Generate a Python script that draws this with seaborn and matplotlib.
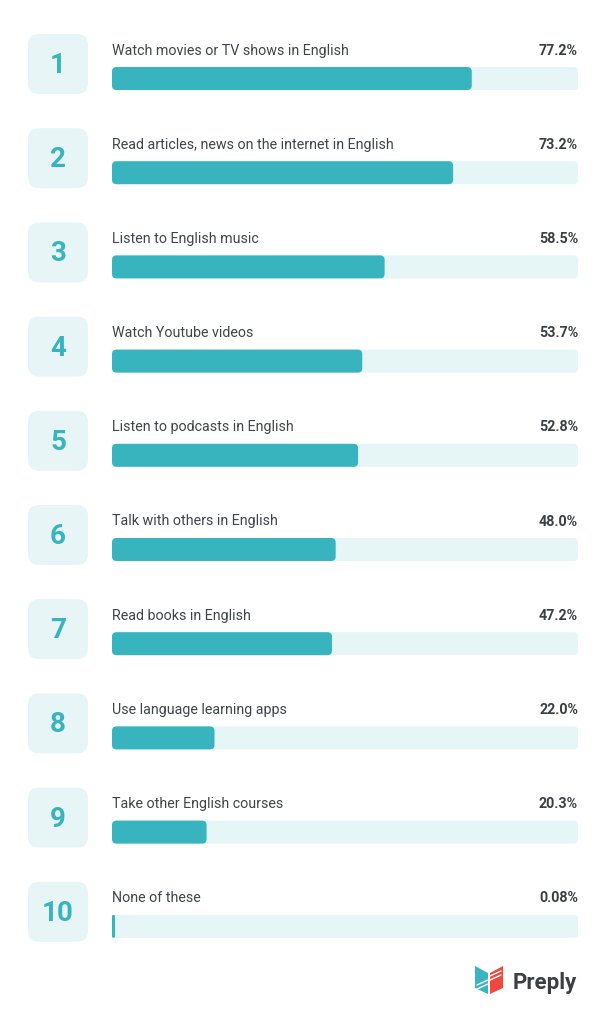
import matplotlib
matplotlib.use("Agg")
import matplotlib.pyplot as plt
import seaborn as sns
import pandas as pd
from matplotlib.patches import FancyBboxPatch, Polygon

# ---------------- data ----------------
ranks = [1, 2, 3, 4, 5, 6, 7, 8, 9, 10]
activities = [
    "Watch movies or TV shows in English",
    "Read articles, news on the internet in English",
    "Listen to English music",
    "Watch Youtube videos",
    "Listen to podcasts in English",
    "Talk with others in English",
    "Read books in English",
    "Use language learning apps",
    "Take other English courses",
    "None of these",
]
shares = [77.2, 73.2, 58.5, 53.7, 52.8, 48.0, 47.2, 22.0, 20.3, 0.08]
full_scale = [100.0] * len(activities)

# ---------------- style ----------------
TEAL = "#38B4BE"
TRACK = "#E6F5F6"
BOX = "#E7F5F6"
TEXT = "#3F4549"
PCT = "#3A3F44"

sns.set_theme(style="white")
plt.rcParams["font.family"] = ["Roboto", "DejaVu Sans"]

W, H = 607, 1024
fig = plt.figure(figsize=(W / 100, H / 100), dpi=100)
fig.patch.set_facecolor("white")

x0_px, x1_px = 112, 578
row0_px, row_step = 78.5, 94.2
ax = fig.add_axes([x0_px / W, 0, (x1_px - x0_px) / W, 1])
ax.set_facecolor("none")

df = pd.DataFrame({"activity": activities, "share": shares, "full": full_scale})
bar_h = 23 / row_step

sns.barplot(data=df, x="full", y="activity", orient="h", color=TRACK,
            width=bar_h, ax=ax, saturation=1, order=activities)
n_track = len(ax.patches)
sns.barplot(data=df, x="share", y="activity", orient="h", color=TEAL,
            width=bar_h, ax=ax, saturation=1, order=activities)

ax.set_xlim(0, 100)
ax.set_ylim((H - row0_px) / row_step, -row0_px / row_step)
ax.axis("off")

# rounded bars replacing the library's rectangles
px_per_x = (x1_px - x0_px) / 100.0
aspect = (1 / row_step) / (1 / px_per_x)
radius_x = 4.5 / px_per_x
patches = list(ax.patches)
for k, p in enumerate(patches):
    x, y = p.get_x(), p.get_y()
    w, h = p.get_width(), p.get_height()
    fc = p.get_facecolor()
    p.remove()
    w_draw = max(w, 3 / px_per_x)
    r = min(radius_x, w_draw / 2)
    fb = FancyBboxPatch((x, y), w_draw, h,
                        boxstyle=f"round,pad=0,rounding_size={r}",
                        mutation_aspect=aspect, facecolor=fc, edgecolor="none",
                        zorder=2 if k >= n_track else 1)
    ax.add_patch(fb)

# number boxes, labels, percentages
box_x0 = (28 - x0_px) / px_per_x
box_x1 = (88 - x0_px) / px_per_x
box_h = 60 / row_step
box_r = 11 / px_per_x
for i, (rk, act, v) in enumerate(zip(ranks, activities, shares)):
    cy = i - (row0_px - 64) / row_step
    bb = FancyBboxPatch((box_x0, cy - box_h / 2), box_x1 - box_x0, box_h,
                        boxstyle=f"round,pad=0,rounding_size={box_r}",
                        mutation_aspect=aspect, facecolor=BOX,
                        edgecolor="none", clip_on=False, zorder=1)
    ax.add_patch(bb)
    ax.text((box_x0 + box_x1) / 2, cy + 1.5 / row_step, str(rk), ha="center",
            va="center", fontsize=20, fontweight="bold", color=TEAL,
            clip_on=False)
    ty = i - (row0_px - 50.5) / row_step
    ax.text(0, ty, act, ha="left", va="center", fontsize=10.3, color=TEXT)
    lab = f"{v:.2f}%" if v < 1 else f"{v:.1f}%"
    ax.text(100, ty, lab, ha="right", va="center", fontsize=10.3,
            fontweight="bold", color=PCT)

# Preply logo
def fx(px):
    return px / W

def fy(py):
    return 1 - py / H

teal_pts = [(475, 966), (488, 973), (488, 994), (475, 988)]
red_pts = [(490, 973), (503, 966), (503, 988), (490, 994)]
fig.patches.append(Polygon([(fx(a), fy(b)) for a, b in teal_pts], closed=True,
                           transform=fig.transFigure, facecolor="#3AB4C0",
                           edgecolor="none"))
fig.patches.append(Polygon([(fx(a), fy(b)) for a, b in red_pts], closed=True,
                           transform=fig.transFigure, facecolor="#F0483E",
                           edgecolor="none"))
for (a1, b1, a2, b2) in [(477, 985, 488, 980), (477, 989, 488, 984),
                         (490, 980, 501, 975), (490, 976, 501, 971)]:
    fig.lines.append(plt.Line2D([fx(a1), fx(a2)], [fy(b1), fy(b2)],
                                transform=fig.transFigure, color="white",
                                lw=1.0))
fig.text(fx(513), fy(983), "Preply", ha="left", va="center", fontsize=16,
         fontweight="bold", color="#3A3F44")

fig.savefig("out.png", dpi=100, facecolor="white")
